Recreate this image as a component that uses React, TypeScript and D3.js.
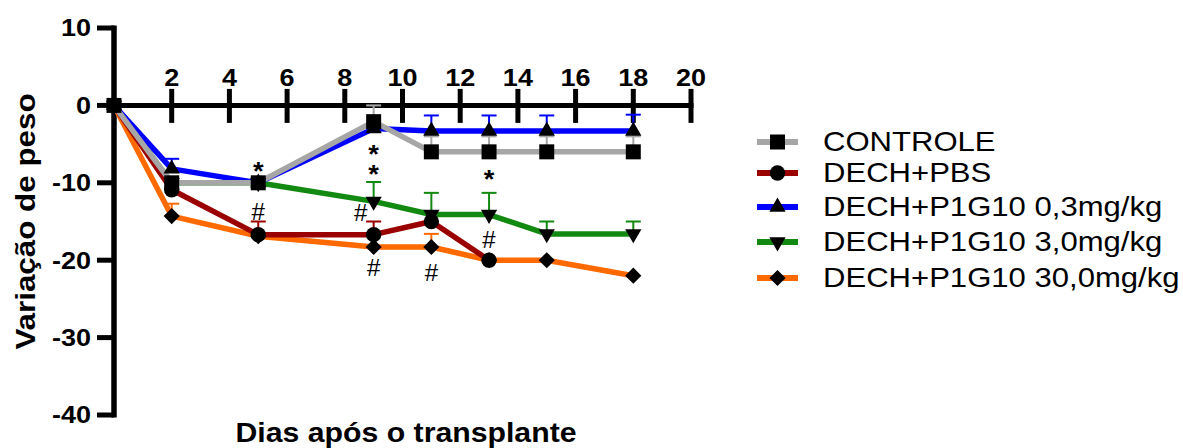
import React from "react";
import * as d3 from "d3";

// ---- data ----
const days = [0, 2, 5, 9, 11, 13, 15, 18];
const controle = [0, -10, -10, -2.1, -6, -6, -6, -6];
const controleErr = [0, 0, 0, 2.1, 2, 2, 2, 2];
const pbs = [0, -10.9, -16.7, -16.7, -15, -20, null, null];
const pbsErr = [0, 0, 1.7, 1.7, 0, 0, null, null];
const p03 = [0, -8.2, -10, -3.0, -3.3, -3.3, -3.3, -3.3];
const p03Err = [0, 1.3, 0, 0, 2, 2, 2, 2.1];
const p3 = [0, -10, -10, -12.4, -14.1, -14.1, -16.6, -16.6];
const p3Err = [0, 0, 0, 2.5, 2.8, 2.8, 1.6, 1.6];
const p30 = [0, -14.3, -16.9, -18.3, -18.3, -20, -20, -22];
const p30Err = [0, 1.6, 0, 0, 1.7, 0, 0, 0];

const seriesNames = [
  "CONTROLE",
  "DECH+PBS",
  "DECH+P1G10 0,3mg/kg",
  "DECH+P1G10 3,0mg/kg",
  "DECH+P1G10 30,0mg/kg",
];
const seriesValues = [controle, pbs, p03, p3, p30];
const seriesErrors = [controleErr, pbsErr, p03Err, p3Err, p30Err];

const xTicks = [2, 4, 6, 8, 10, 12, 14, 16, 18, 20];
const yTicks = [10, 0, -10, -20, -30, -40];

const annText = ["*", "#", "*", "*", "#", "#", "#", "*", "#"];
const annDay = [5, 5, 9, 9, 8.55, 9, 11, 13, 13];
const annVal = [-7.7, -13.7, -5.5, -8.1, -13.9, -21.0, -21.6, -8.7, -17.4];

// ---- styles ----
const colors = ["#a6a6a6", "#9b0000", "#0000ff", "#128a12", "#ff6a00"];
const symbols = ["square", "circle", "triUp", "triDown", "diamond"];
const FONT = "'Liberation Sans', Arial, Helvetica, sans-serif";
const SX = 1.12;

const x = d3.scaleLinear().domain([0, 20]).range([114, 691]);
const y = d3.scaleLinear().domain([-40, 10]).range([415, 28]);

function markerPath(kind: string): { d: string; rot: number } {
  switch (kind) {
    case "square":
      return { d: d3.symbol(d3.symbolSquare, 225)()!, rot: 0 };
    case "circle":
      return { d: d3.symbol(d3.symbolCircle, 185)()!, rot: 0 };
    case "triUp":
      return { d: d3.symbol(d3.symbolTriangle, 115)()!, rot: 0 };
    case "triDown":
      return { d: d3.symbol(d3.symbolTriangle, 115)()!, rot: 180 };
    default:
      return { d: d3.symbol(d3.symbolSquare, 130)()!, rot: 45 };
  }
}

function Marker({ kind, cx, cy }: { kind: string; cx: number; cy: number }) {
  const m = markerPath(kind);
  return (
    <path
      d={m.d}
      transform={`translate(${cx},${cy}) rotate(${m.rot})`}
      fill="#000"
    />
  );
}

function T({
  x0,
  y0,
  children,
  size,
  weight = "normal",
  anchor = "start",
  sx = SX,
  rotate = 0,
}: any) {
  return (
    <text
      transform={`translate(${x0},${y0}) rotate(${rotate}) scale(${sx},1)`}
      fontFamily={FONT}
      fontSize={size}
      fontWeight={weight}
      textAnchor={anchor}
      fill="#000"
    >
      {children}
    </text>
  );
}

export default function App() {
  const line = d3
    .line<[number, number | null]>()
    .defined((d) => d[1] !== null)
    .x((d) => x(d[0]))
    .y((d) => y(d[1] as number));

  const order = [4, 3, 2, 1, 0];
  const legendRowY = [142, 173, 207, 242, 278];

  return (
    <svg
      width={1183}
      height={448}
      style={{ position: "absolute", left: 0, top: 0, background: "#fff" }}
    >
      <rect width={1183} height={448} fill="#fff" />
      {/* axes */}
      <line x1={x(0)} x2={x(0)} y1={y(10) - 2.5} y2={y(-40) + 2.5} stroke="#000" strokeWidth={5.5} />
      <line x1={x(0)} x2={x(20) + 2.5} y1={y(0)} y2={y(0)} stroke="#000" strokeWidth={5} />
      {yTicks.map((t) => (
        <g key={"yt" + t}>
          <line x1={97} x2={x(0)} y1={y(t)} y2={y(t)} stroke="#000" strokeWidth={5} />
          <T x0={91} y0={y(t) + 8.3} size={23.3} weight="bold" anchor="end" sx={1.16}>
            {t}
          </T>
        </g>
      ))}
      {xTicks.map((t) => (
        <g key={"xt" + t}>
          <line x1={x(t)} x2={x(t)} y1={y(0) - 16.5} y2={y(0) + 17.5} stroke="#000" strokeWidth={5} />
          <T x0={x(t)} y0={86} size={23.3} weight="bold" anchor="middle" sx={1.16}>
            {t}
          </T>
        </g>
      ))}

      {/* lines */}
      {order.map((i) => (
        <path
          key={"l" + i}
          d={line(days.map((d, k) => [d, seriesValues[i][k]]))!}
          fill="none"
          stroke={colors[i]}
          strokeWidth={5.5}
          strokeLinejoin="round"
        />
      ))}

      {/* error bars */}
      {order.map((i) =>
        days.map((d, k) => {
          const v = seriesValues[i][k];
          const e = seriesErrors[i][k];
          if (v === null || !e) return null;
          return (
            <g key={`e${i}-${k}`} stroke={colors[i]} strokeWidth={2}>
              <line x1={x(d)} x2={x(d)} y1={y(v)} y2={y(v + e)} />
              <line x1={x(d) - 7.5} x2={x(d) + 7.5} y1={y(v + e)} y2={y(v + e)} />
            </g>
          );
        })
      )}

      {/* markers */}
      {order.map((i) =>
        days.map((d, k) => {
          const v = seriesValues[i][k];
          if (v === null) return null;
          return <Marker key={`m${i}-${k}`} kind={symbols[i]} cx={x(d)} cy={y(v)} />;
        })
      )}

      {/* annotations */}
      {annText.map((s, k) => (
        <T
          key={"a" + k}
          x0={x(annDay[k])}
          y0={y(annVal[k]) + (s === "*" ? 15 : 8.2)}
          size={s === "*" ? 26 : 23}
          weight={s === "*" ? "bold" : "normal"}
          anchor="middle"
          sx={1.05}
        >
          {s}
        </T>
      ))}

      {/* axis titles */}
      <T x0={406} y0={442} size={27} weight="bold" anchor="middle">
        Dias após o transplante
      </T>
      <T x0={35} y0={221.5} size={28} weight="bold" anchor="middle" rotate={-90}>
        Variação de peso
      </T>

      {/* legend */}
      {seriesNames.map((name, i) => (
        <g key={"lg" + i}>
          <line x1={757} x2={798} y1={legendRowY[i]} y2={legendRowY[i]} stroke={colors[i]} strokeWidth={6} />
          <Marker kind={symbols[i]} cx={777.5} cy={legendRowY[i]} />
          <T x0={823} y0={legendRowY[i] + 9} size={27.5} sx={1.13}>
            {name}
          </T>
        </g>
      ))}
    </svg>
  );
}
